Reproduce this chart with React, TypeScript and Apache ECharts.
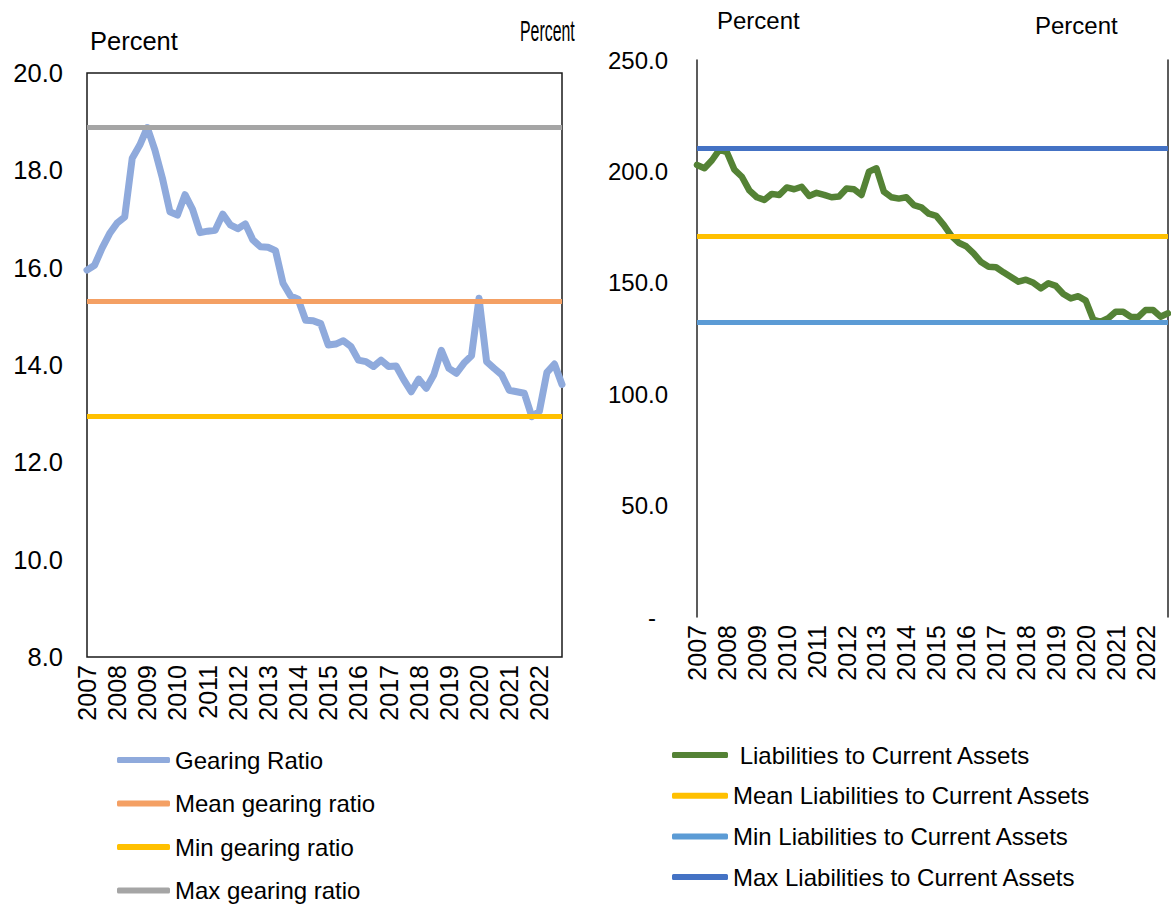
import React, { useEffect, useRef } from "react";
import * as echarts from "echarts";

const years = [2007, 2008, 2009, 2010, 2011, 2012, 2013, 2014, 2015, 2016, 2017, 2018, 2019, 2020, 2021, 2022];
const quarters = ["Q1", "Q2", "Q3", "Q4"];

const gearingRatio = [
  15.95, 16.05, 16.4, 16.7, 16.92, 17.04, 18.25, 18.52,
  18.88, 18.42, 17.84, 17.15, 17.08, 17.5, 17.2, 16.72,
  16.75, 16.77, 17.1, 16.88, 16.8, 16.9, 16.57, 16.43,
  16.42, 16.35, 15.68, 15.42, 15.35, 14.92, 14.91, 14.85,
  14.41, 14.43, 14.5, 14.38, 14.1, 14.07, 13.97, 14.1,
  13.97, 13.98, 13.7, 13.45, 13.71, 13.52, 13.8, 14.3,
  13.93, 13.83, 14.04, 14.19, 15.37, 14.07, 13.93, 13.8,
  13.48, 13.45, 13.42, 12.94, 13.05, 13.85, 14.02, 13.6,
];
const meanGearing = 15.32;
const minGearing = 12.94;
const maxGearing = 18.88;

const liabilitiesToCurrentAssets = [
  202.9, 201.4, 205.0, 209.8, 208.6, 200.8, 197.6, 191.5,
  188.4, 187.2, 189.9, 189.4, 192.8, 192.0, 193.1, 189.0,
  190.4, 189.5, 188.4, 188.7, 192.3, 192.0, 189.4, 199.9,
  201.4, 190.9, 188.4, 187.8, 188.4, 184.9, 183.9, 181.0,
  180.0, 176.0, 171.2, 168.0, 166.4, 163.2, 159.3, 157.2,
  157.0, 154.7, 152.6, 150.5, 151.4, 150.0, 147.5, 149.8,
  148.6, 145.0, 143.0, 144.0, 142.0, 133.5, 132.5, 134.1,
  137.0, 137.0, 134.8, 134.6, 137.8, 137.8, 134.8, 136.3,
];
const meanLiab = 171.0;
const minLiab = 132.5;
const maxLiab = 210.2;

const leftNames = ["Gearing Ratio", "Mean gearing ratio", "Min gearing ratio", "Max gearing ratio"];
const rightNames = [" Liabilities to Current Assets", "Mean Liabilities to Current Assets", "Min Liabilities to Current Assets", "Max Liabilities to Current Assets"];

const categories: string[] = [];
years.forEach((y) => quarters.forEach((q) => categories.push(`${y} ${q}`)));

const FONT = "'Liberation Sans', Arial, sans-serif";

function hLine(name: string, value: number, color: string, xi: number, width: number) {
  return {
    name,
    type: "line",
    xAxisIndex: xi,
    yAxisIndex: xi === 0 ? 0 : 1,
    data: [],
    color,
    itemStyle: { color },
    lineStyle: { color, width },
    symbol: "none",
    silent: true,
    markLine: {
      silent: true,
      symbol: ["none", "none"],
      label: { show: false },
      emphasis: { disabled: true },
      lineStyle: { color, width, type: "solid" },
      data: [{ yAxis: value }],
      z: 5,
    },
  };
}

export default function App() {
  const ref = useRef<HTMLDivElement>(null);
  useEffect(() => {
    if (!ref.current) return;
    const chart = echarts.init(ref.current, undefined, { renderer: "svg" });
    const xLabel = {
      interval: 3,
      rotate: 90,
      margin: 8,
      fontSize: 25,
      color: "#000",
      fontFamily: FONT,
      formatter: (v: string) => v.slice(0, 4),
    };
    const option: any = {
      animation: false,
      backgroundColor: "#fff",
      grid: [
        { left: 87, top: 73, width: 475, height: 584, show: true, borderColor: "#1a1a1a", borderWidth: 1.5, backgroundColor: "transparent" },
        { left: 697, top: 60, width: 471, height: 557 },
      ],
      xAxis: [
        {
          gridIndex: 0, type: "category", data: categories, boundaryGap: false,
          axisLine: { show: false }, axisTick: { show: false }, axisLabel: xLabel, splitLine: { show: false },
        },
        {
          gridIndex: 1, type: "category", data: categories, boundaryGap: false,
          axisLine: { show: false }, axisTick: { show: false }, axisLabel: xLabel, splitLine: { show: false },
        },
      ],
      yAxis: [
        {
          gridIndex: 0, type: "value", min: 8, max: 20, interval: 2,
          axisLine: { show: false }, axisTick: { show: false }, splitLine: { show: false },
          axisLabel: { margin: 24, fontSize: 25.5, color: "#000", fontFamily: FONT, formatter: (v: number) => v.toFixed(1) },
        },
        {
          gridIndex: 1, type: "value", min: 0, max: 250, interval: 50,
          axisLine: { show: true, lineStyle: { color: "#262626", width: 1.5 } }, axisTick: { show: false }, splitLine: { show: false },
          axisLabel: {
            margin: 29, fontSize: 24, color: "#000", fontFamily: FONT,
            formatter: (v: number) => (v === 0 ? "{d|-}" : v.toFixed(1)),
            rich: { d: { fontSize: 24, color: "#000", fontFamily: FONT, padding: [0, 12, 0, 0] } },
          },
        },
        {
          gridIndex: 1, type: "value", min: 0, max: 250, interval: 50, position: "right",
          axisLine: { show: true, onZero: false, lineStyle: { color: "#262626", width: 1.5 } }, axisTick: { show: false },
          splitLine: { show: false }, axisLabel: { show: false },
        },
      ],
      legend: [
        {
          data: leftNames, orient: "vertical", left: 117, top: 748, padding: 0, itemWidth: 53, itemHeight: 6, itemGap: 19.5,
          icon: "roundRect", selectedMode: false,
          textStyle: { fontSize: 24, color: "#000", fontFamily: FONT, lineHeight: 24 },
        },
        {
          data: rightNames, orient: "vertical", left: 672, top: 743, padding: 0, itemWidth: 56, itemHeight: 6, itemGap: 16.7,
          icon: "roundRect", selectedMode: false,
          textStyle: { fontSize: 24, color: "#000", fontFamily: FONT, lineHeight: 24 },
        },
      ],
      graphic: [
        { type: "text", x: 90, y: 41, style: { text: "Percent", fontSize: 25.5, fontFamily: FONT, fill: "#000", verticalAlign: "middle" } },
        { type: "text", x: 520, y: 30, scaleX: 0.53, style: { text: "Percent", fontSize: 30, fontFamily: FONT, fill: "#000", verticalAlign: "middle" } },
        { type: "text", x: 717, y: 20, style: { text: "Percent", fontSize: 24, fontFamily: FONT, fill: "#000", verticalAlign: "middle" } },
        { type: "text", x: 1035, y: 25, style: { text: "Percent", fontSize: 24, fontFamily: FONT, fill: "#000", verticalAlign: "middle" } },
      ],
      series: [
        {
          name: leftNames[0], type: "line", xAxisIndex: 0, yAxisIndex: 0, data: gearingRatio,
          symbol: "none", color: "#8FAADC", itemStyle: { color: "#8FAADC" },
          lineStyle: { color: "#8FAADC", width: 7, cap: "round", join: "round" }, z: 3,
        },
        hLine(leftNames[1], meanGearing, "#F4A064", 0, 5),
        hLine(leftNames[2], minGearing, "#FFC000", 0, 5),
        hLine(leftNames[3], maxGearing, "#A5A5A5", 0, 5),
        {
          name: rightNames[0], type: "line", xAxisIndex: 1, yAxisIndex: 1, data: liabilitiesToCurrentAssets,
          symbol: "none", color: "#548235", itemStyle: { color: "#548235" },
          lineStyle: { color: "#548235", width: 6.5, cap: "round", join: "round" }, z: 3,
        },
        hLine(rightNames[1], meanLiab, "#FFC000", 1, 5),
        hLine(rightNames[2], minLiab, "#5B9BD5", 1, 5),
        hLine(rightNames[3], maxLiab, "#4472C4", 1, 5),
      ],
    };
    chart.setOption(option);
    return () => chart.dispose();
  }, []);
  return (
    <div
      ref={ref}
      style={{ position: "fixed", left: 0, top: 0, width: 1171, height: 906, background: "#fff" }}
    />
  );
}
